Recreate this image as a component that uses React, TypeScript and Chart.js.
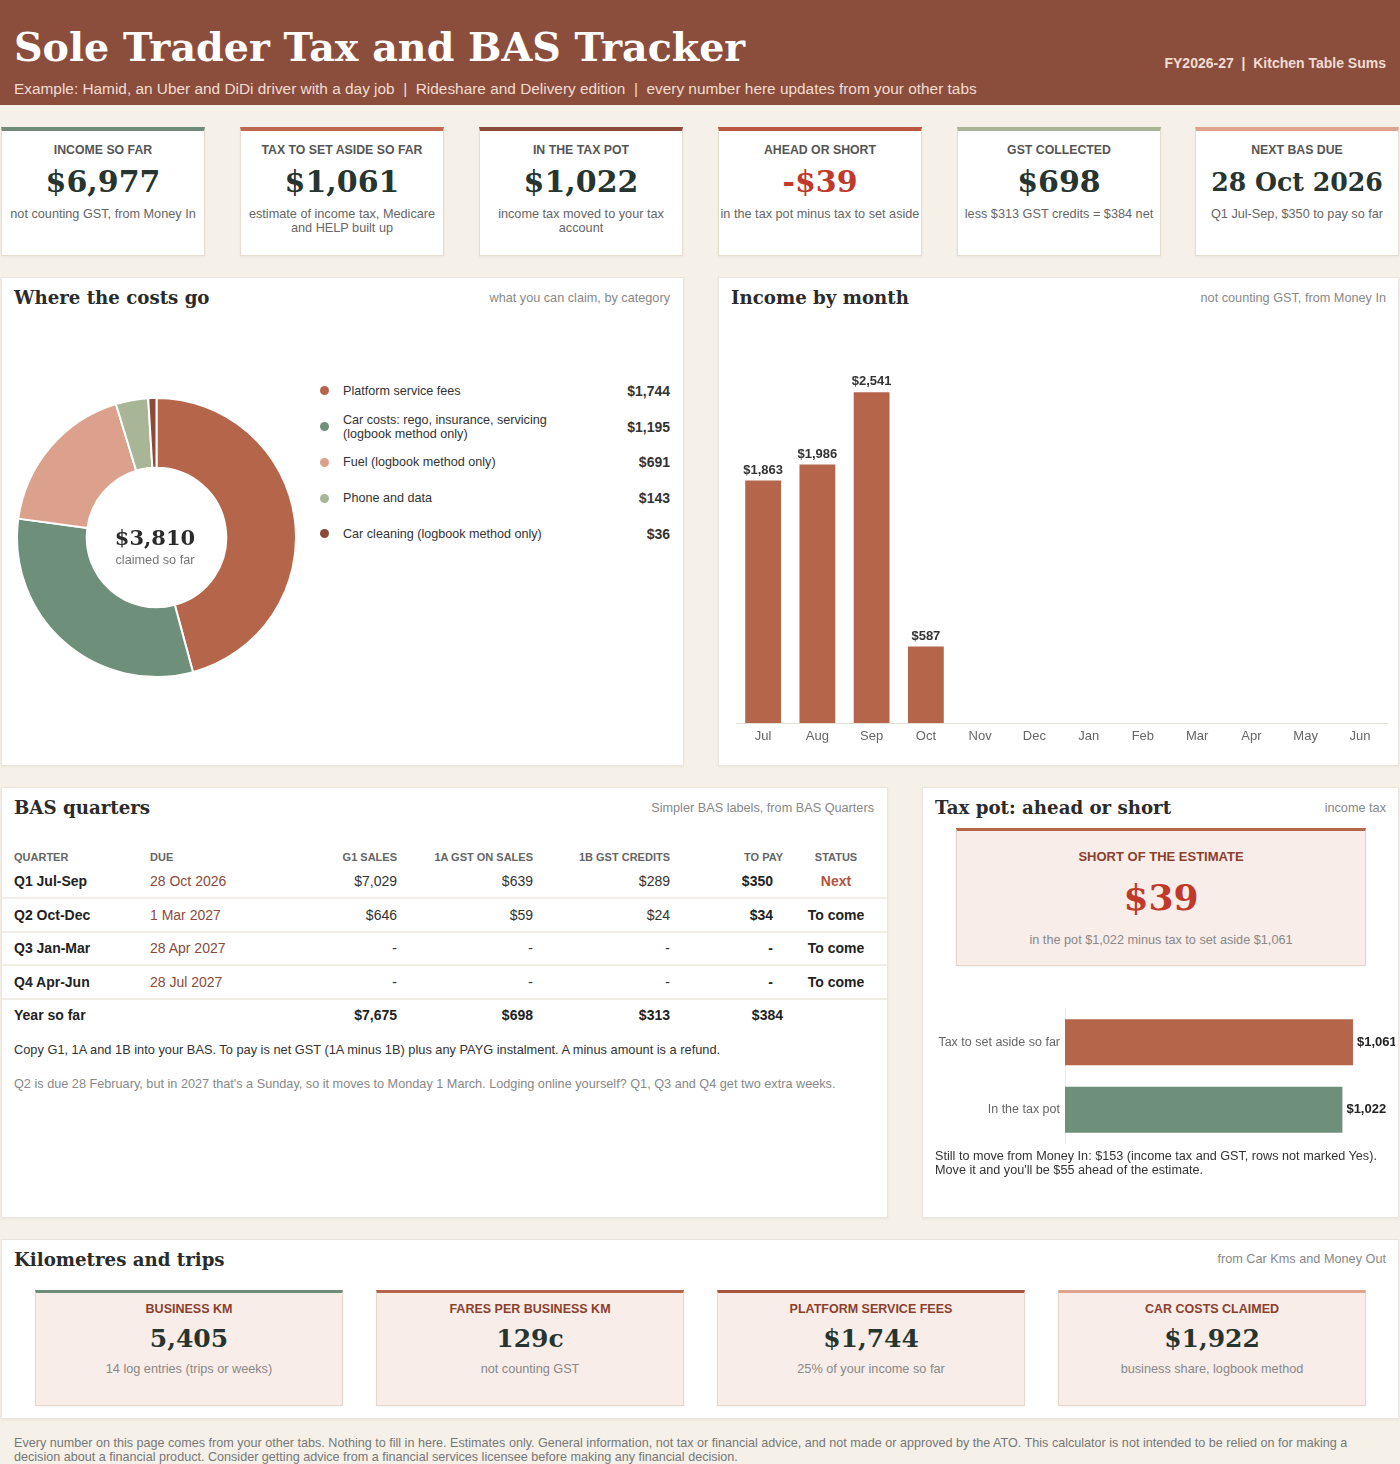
import React, { useEffect, useRef } from "react";
import { Chart, registerables } from "chart.js";
Chart.register(...registerables);

const SANS = '"Liberation Sans", Arial, sans-serif';
const SERIF = '"DejaVu Serif", serif';
const SM = 12.7;

// ---------- data ----------
const kpiLabels = ["INCOME SO FAR", "TAX TO SET ASIDE SO FAR", "IN THE TAX POT", "AHEAD OR SHORT", "GST COLLECTED", "NEXT BAS DUE"];
const kpiValues = ["$6,977", "$1,061", "$1,022", "-$39", "$698", "28 Oct 2026"];
const kpiNotes = [
  "not counting GST, from Money In",
  "estimate of income tax, Medicare\nand HELP built up",
  "income tax moved to your tax\naccount",
  "in the tax pot minus tax to set aside",
  "less $313 GST credits = $384 net",
  "Q1 Jul-Sep, $350 to pay so far",
];
const kpiAccents = ["#6f8b79", "#c0674f", "#8b4a3a", "#b9573f", "#a9b495", "#e0a38e"];

const costCategories = [
  "Platform service fees",
  "Car costs: rego, insurance, servicing (logbook method only)",
  "Fuel (logbook method only)",
  "Phone and data",
  "Car cleaning (logbook method only)",
];
const costValues = [1744, 1195, 691, 143, 36];
const costColors = ["#b5654a", "#6e8f7a", "#dba18c", "#a8b596", "#8b4a3a"];
const costTotalLabel = "$3,810";

const months = ["Jul", "Aug", "Sep", "Oct", "Nov", "Dec", "Jan", "Feb", "Mar", "Apr", "May", "Jun"];
const monthlyIncome: (number | null)[] = [1863, 1986, 2541, 587, null, null, null, null, null, null, null, null];
const incomeAxisMax = 3020;

const basQuarters = ["Q1 Jul-Sep", "Q2 Oct-Dec", "Q3 Jan-Mar", "Q4 Apr-Jun"];
const basDue = ["28 Oct 2026", "1 Mar 2027", "28 Apr 2027", "28 Jul 2027"];
const basG1 = ["$7,029", "$646", "-", "-"];
const bas1A = ["$639", "$59", "-", "-"];
const bas1B = ["$289", "$24", "-", "-"];
const basToPay = ["$350", "$34", "-", "-"];
const basStatus = ["Next", "To come", "To come", "To come"];
const basTotals = ["$7,675", "$698", "$313", "$384"];

const potLabels = ["Tax to set aside so far", "In the tax pot"];
const potValues = [1061, 1022];
const potColors = ["#b5654a", "#6e8f7a"];
const potAxisMax = 1190;

const kmLabels = ["BUSINESS KM", "FARES PER BUSINESS KM", "PLATFORM SERVICE FEES", "CAR COSTS CLAIMED"];
const kmValues = ["5,405", "129c", "$1,744", "$1,922"];
const kmNotes = ["14 log entries (trips or weeks)", "not counting GST", "25% of your income so far", "business share, logbook method"];
const kmAccents = ["#6f8b79", "#b5654a", "#a8553f", "#e0a38e"];

const fmtMoney = (v: number) => "$" + v.toLocaleString("en-US");

// ---------- helpers ----------
type TxtProps = {
  x: number; y: number; s?: number; c?: string; b?: boolean; serif?: boolean;
  align?: "left" | "right" | "center"; w?: number; lh?: number; children: React.ReactNode; ls?: number;
};
function Txt({ x, y, s = 13, c = "#333", b = false, serif = false, align = "left", w = 700, lh, children, ls }: TxtProps) {
  const L = lh ?? Math.round(s * 1.15);
  let left = x;
  if (align === "right") left = x - w;
  else if (align === "center") left = x - w / 2;
  return (
    <div
      style={{
        position: "absolute", left, top: y - L / 2, width: w, textAlign: align, fontSize: s,
        lineHeight: L + "px", color: c, fontWeight: b ? 700 : 400, fontFamily: serif ? SERIF : SANS,
        whiteSpace: "pre", letterSpacing: ls,
      }}
    >
      {children}
    </div>
  );
}

function Box({ x, y, w, h, bg = "#fff", border = "#ebe5da", top, topW = 4 }: any) {
  return (
    <div
      style={{
        position: "absolute", left: x, top: y, width: w, height: h, background: bg, boxSizing: "border-box",
        border: `1px solid ${border}`, borderTop: top ? `${topW}px solid ${top}` : `1px solid ${border}`,
        boxShadow: "0 1px 2px rgba(120,100,80,0.08)",
      }}
    />
  );
}

const valueLabelPlugin = {
  id: "valueLabels",
  afterDatasetsDraw(chart: any, _a: any, opts: any) {
    const { ctx } = chart;
    const meta = chart.getDatasetMeta(0);
    const horizontal = chart.options.indexAxis === "y";
    ctx.save();
    ctx.font = `bold ${opts.size || 13}px ${SANS}`;
    ctx.fillStyle = opts.color || "#333";
    meta.data.forEach((el: any, i: number) => {
      const v = chart.data.datasets[0].data[i];
      if (v == null) return;
      if (horizontal) {
        ctx.textAlign = "left";
        ctx.textBaseline = "middle";
        ctx.fillText(fmtMoney(v), el.x + 4, el.y);
      } else {
        ctx.textAlign = "center";
        ctx.textBaseline = "alphabetic";
        ctx.fillText(fmtMoney(v), el.x, el.y - 7);
      }
    });
    ctx.restore();
  },
};

function ChartCanvas({ left, top, width, height, make }: any) {
  const ref = useRef<HTMLCanvasElement>(null);
  useEffect(() => {
    const chart = new Chart(ref.current as HTMLCanvasElement, make());
    return () => chart.destroy();
  }, []);
  return <canvas ref={ref} width={width} height={height} style={{ position: "absolute", left, top, width, height }} />;
}

const donutConfig = (): any => ({
  type: "doughnut",
  data: {
    labels: costCategories,
    datasets: [{ data: costValues, backgroundColor: costColors, borderColor: "#fff", borderWidth: 2 }],
  },
  options: {
    animation: false, responsive: false, cutout: "50%",
    layout: { padding: 0 },
    plugins: { legend: { display: false }, tooltip: { enabled: false } },
  },
});

const incomeConfig = (): any => ({
  type: "bar",
  data: {
    labels: months,
    datasets: [{ data: monthlyIncome, backgroundColor: "#b5654a", barPercentage: 0.66, categoryPercentage: 1 }],
  },
  plugins: [valueLabelPlugin],
  options: {
    animation: false, responsive: false,
    layout: { padding: { left: 6, right: 6, top: 0, bottom: 0 } },
    scales: {
      x: {
        grid: { display: false, drawTicks: false },
        border: { display: true, color: "#e4dfd7" },
        ticks: { color: "#666", font: { family: SANS, size: 13 }, padding: 6 },
        afterFit: (s: any) => { s.height = 32; },
      },
      y: { display: false, min: 0, max: incomeAxisMax },
    },
    plugins: { legend: { display: false }, tooltip: { enabled: false }, valueLabels: { size: 13, color: "#333" } },
  },
});

const potConfig = (): any => ({
  type: "bar",
  data: {
    labels: potLabels,
    datasets: [{ data: potValues, backgroundColor: potColors, barPercentage: 1, categoryPercentage: 0.68 }],
  },
  plugins: [valueLabelPlugin],
  options: {
    indexAxis: "y", animation: false, responsive: false,
    layout: { padding: { left: 0, right: 7, top: 7, bottom: 3 } },
    scales: {
      x: { display: false, min: 0, max: potAxisMax },
      y: {
        grid: { display: false, drawTicks: false },
        border: { display: true, color: "#ebe7e1" },
        ticks: { color: "#666", font: { family: SANS, size: 12.5 }, padding: 5 },
        afterFit: (s: any) => { s.width = 140; },
      },
    },
    plugins: { legend: { display: false }, tooltip: { enabled: false }, valueLabels: { size: 13, color: "#222" } },
  },
});

export default function App() {
  const kpiX = [1, 240, 479, 718, 957, 1195];
  const kmX = [35, 376, 717, 1058];
  const rowY = [881, 915, 948, 982];
  return (
    <div style={{ position: "relative", width: 1400, height: 1464, background: "#f5f1e9", overflow: "hidden", fontFamily: SANS }}>
      <style>{"body{margin:0;}"}</style>

      {/* header */}
      <div style={{ position: "absolute", left: 0, top: 0, width: 1400, height: 105, background: "#8b4e3c" }} />
      <Txt x={14} y={47} s={39.6} serif b c="#ffffff" lh={48}>Sole Trader Tax and BAS Tracker</Txt>
      <Txt x={14} y={89} s={15.4} c="#f3dcd2" w={1100}>
        {"Example: Hamid, an Uber and DiDi driver with a day job  |  Rideshare and Delivery edition  |  every number here updates from your other tabs"}
      </Txt>
      <Txt x={1386} y={63} s={14} b c="#f3dcd2" align="right">{"FY2026-27  |  Kitchen Table Sums"}</Txt>

      {/* KPI cards */}
      {kpiLabels.map((lab, i) => (
        <React.Fragment key={lab}>
          <Box x={kpiX[i]} y={127} w={204} h={129} top={kpiAccents[i]} border="#e4ddd0" />
          <Txt x={kpiX[i] + 102} y={150} s={12.3} b c="#555" align="center" w={204}>{lab}</Txt>
          <Txt x={kpiX[i] + 102} y={182} s={i === 5 ? 25.2 : 30} serif b c={i === 3 ? "#c0392b" : "#263530"} align="center" w={204} lh={36}>
            {kpiValues[i]}
          </Txt>
          <Txt x={kpiX[i] + 102} y={214} s={SM} c="#666" align="center" w={204} lh={14}>{kpiNotes[i]}</Txt>
        </React.Fragment>
      ))}

      {/* costs panel */}
      <Box x={1} y={277} w={683} h={489} />
      <Txt x={14} y={298} s={18.2} serif b c="#2b2b2b" lh={24}>Where the costs go</Txt>
      <Txt x={670} y={298} s={SM} c="#888" align="right">what you can claim, by category</Txt>
      <ChartCanvas left={16} top={397} width={281} height={281} make={donutConfig} />
      <Txt x={155} y={538} s={21} serif b c="#2b2b2b" align="center" w={140} lh={26}>{costTotalLabel}</Txt>
      <Txt x={155} y={560} s={SM} c="#777" align="center" w={140}>claimed so far</Txt>
      <div style={{ position: "absolute", left: 318, top: 373, width: 352 }}>
        {costCategories.map((cat, i) => (
          <div key={cat} style={{ height: 35.75, display: "flex", alignItems: "center" }}>
            <div style={{ width: 9, height: 9, borderRadius: 5, background: costColors[i], marginLeft: 2, marginRight: 14 }} />
            <div style={{ width: 215, fontSize: 12.6, lineHeight: "14px", color: "#333" }}>{cat}</div>
            <div style={{ flex: 1, textAlign: "right", fontSize: 14, fontWeight: 700, color: "#333" }}>{fmtMoney(costValues[i])}</div>
          </div>
        ))}
      </div>

      {/* income panel */}
      <Box x={718} y={277} w={681} h={489} />
      <Txt x={731} y={298} s={18.2} serif b c="#2b2b2b" lh={24}>Income by month</Txt>
      <Txt x={1386} y={298} s={SM} c="#888" align="right">not counting GST, from Money In</Txt>
      <ChartCanvas left={730} top={330} width={663} height={425} make={incomeConfig} />

      {/* BAS panel */}
      <Box x={1} y={787} w={887} h={431} />
      <Txt x={14} y={808} s={18.2} serif b c="#2b2b2b" lh={24}>BAS quarters</Txt>
      <Txt x={874} y={808} s={SM} c="#888" align="right">Simpler BAS labels, from BAS Quarters</Txt>
      <Txt x={14} y={857} s={11} b c="#666">QUARTER</Txt>
      <Txt x={150} y={857} s={11} b c="#666">DUE</Txt>
      <Txt x={397} y={857} s={11} b c="#666" align="right" w={150}>G1 SALES</Txt>
      <Txt x={533} y={857} s={11} b c="#666" align="right" w={150}>1A GST ON SALES</Txt>
      <Txt x={670} y={857} s={11} b c="#666" align="right" w={150}>1B GST CREDITS</Txt>
      <Txt x={783} y={857} s={11} b c="#666" align="right" w={100}>TO PAY</Txt>
      <Txt x={836} y={857} s={11} b c="#666" align="center" w={100}>STATUS</Txt>
      {[897, 931, 964, 998].map((y) => (
        <div key={y} style={{ position: "absolute", left: 2, top: y, width: 885, height: 2, background: "#f1ede7" }} />
      ))}
      {basQuarters.map((q, i) => (
        <React.Fragment key={q}>
          <Txt x={14} y={rowY[i]} s={14} b c="#222">{q}</Txt>
          <Txt x={150} y={rowY[i]} s={14} c="#8b4a3a">{basDue[i]}</Txt>
          <Txt x={397} y={rowY[i]} s={14} c="#333" align="right" w={150}>{basG1[i]}</Txt>
          <Txt x={533} y={rowY[i]} s={14} c="#333" align="right" w={150}>{bas1A[i]}</Txt>
          <Txt x={670} y={rowY[i]} s={14} c="#333" align="right" w={150}>{bas1B[i]}</Txt>
          <Txt x={773} y={rowY[i]} s={14} b c="#222" align="right" w={100}>{basToPay[i]}</Txt>
          <Txt x={836} y={rowY[i]} s={14} b c={basStatus[i] === "Next" ? "#b5533c" : "#222"} align="center" w={100}>{basStatus[i]}</Txt>
        </React.Fragment>
      ))}
      <Txt x={14} y={1015} s={14} b c="#222">Year so far</Txt>
      <Txt x={397} y={1015} s={14} b c="#222" align="right" w={150}>{basTotals[0]}</Txt>
      <Txt x={533} y={1015} s={14} b c="#222" align="right" w={150}>{basTotals[1]}</Txt>
      <Txt x={670} y={1015} s={14} b c="#222" align="right" w={150}>{basTotals[2]}</Txt>
      <Txt x={783} y={1015} s={14} b c="#222" align="right" w={100}>{basTotals[3]}</Txt>
      <Txt x={14} y={1049} s={12.8} c="#333" w={860}>Copy G1, 1A and 1B into your BAS. To pay is net GST (1A minus 1B) plus any PAYG instalment. A minus amount is a refund.</Txt>
      <Txt x={14} y={1084} s={12.7} c="#888" w={860}>Q2 is due 28 February, but in 2027 that's a Sunday, so it moves to Monday 1 March. Lodging online yourself? Q1, Q3 and Q4 get two extra weeks.</Txt>

      {/* Tax pot panel */}
      <Box x={922} y={787} w={477} h={431} />
      <Txt x={935} y={808} s={18.2} serif b c="#2b2b2b" lh={24}>Tax pot: ahead or short</Txt>
      <Txt x={1386} y={808} s={SM} c="#888" align="right" w={200}>income tax</Txt>
      <Box x={956} y={828} w={410} h={138} bg="#f8ede8" border="#e3d3c8" top="#b5654a" topW={3} />
      <Txt x={1161} y={856} s={13} b c="#8b3f2e" align="center" w={400}>SHORT OF THE ESTIMATE</Txt>
      <Txt x={1161} y={897} s={36} serif b c="#c0392b" align="center" w={400} lh={42}>$39</Txt>
      <Txt x={1161} y={940} s={SM} c="#888" align="center" w={400}>in the pot $1,022 minus tax to set aside $1,061</Txt>
      <ChartCanvas left={925} top={996} width={470} height={160} make={potConfig} />
      <Txt x={935} y={1156} s={12.65} c="#333" lh={14} w={460}>
        {"Still to move from Money In: $153 (income tax and GST, rows not marked Yes).\nMove it and you'll be $55 ahead of the estimate."}
      </Txt>

      {/* km panel */}
      <Box x={1} y={1239} w={1398} h={180} />
      <Txt x={14} y={1260} s={18.2} serif b c="#2b2b2b" lh={24}>Kilometres and trips</Txt>
      <Txt x={1386} y={1259} s={SM} c="#888" align="right" w={300}>from Car Kms and Money Out</Txt>
      {kmLabels.map((lab, i) => (
        <React.Fragment key={lab}>
          <Box x={kmX[i]} y={1290} w={308} h={116} bg="#f8ede8" border="#e6d7cd" top={kmAccents[i]} topW={3} />
          <Txt x={kmX[i] + 154} y={1309} s={12.5} b c="#8b3f2e" align="center" w={300}>{lab}</Txt>
          <Txt x={kmX[i] + 154} y={1339} s={25} serif b c="#263530" align="center" w={300} lh={32}>{kmValues[i]}</Txt>
          <Txt x={kmX[i] + 154} y={1369} s={SM} c="#888" align="center" w={300}>{kmNotes[i]}</Txt>
        </React.Fragment>
      ))}

      {/* footer */}
      <Txt x={14} y={1443} s={12.6} c="#777" lh={14} w={1380}>
        {"Every number on this page comes from your other tabs. Nothing to fill in here. Estimates only. General information, not tax or financial advice, and not made or approved by the ATO. This calculator is not intended to be relied on for making a\ndecision about a financial product. Consider getting advice from a financial services licensee before making any financial decision."}
      </Txt>
    </div>
  );
}
